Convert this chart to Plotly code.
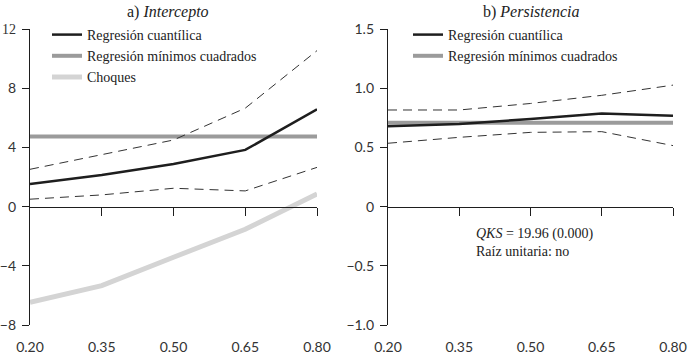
import plotly.graph_objects as go

quantiles = [0.20, 0.35, 0.50, 0.65, 0.80]
tick_labels = ["0.20", "0.35", "0.50", "0.65", "0.80"]

# Panel a) Intercepto
int_qr = [1.53, 2.14, 2.88, 3.83, 6.58]
int_upper = [2.52, 3.49, 4.50, 6.65, 10.54]
int_lower = [0.50, 0.79, 1.24, 1.06, 2.65]
int_ols = [4.73, 4.73, 4.73, 4.73, 4.73]
int_shocks = [-6.46, -5.34, -3.42, -1.53, 0.86]

# Panel b) Persistencia
per_qr = [0.678, 0.698, 0.740, 0.787, 0.768]
per_upper = [0.816, 0.816, 0.871, 0.940, 1.026]
per_lower = [0.535, 0.585, 0.627, 0.633, 0.515]
per_ols = [0.709, 0.709, 0.709, 0.709, 0.709]

yticks_a = [-8, -4, 0, 4, 8, 12]
yticklabels_a = ["−8", "−4", "0", "4", "8", "<span style='font-family:Liberation Serif'>12</span>"]
yticks_b = [-1.0, -0.5, 0, 0.5, 1.0, 1.5]
yticklabels_b = ["−1.0", "−0.5", "0", "0.5", "1.0", "1.5"]

W, H = 689, 354
SERIF = "Liberation Serif"
SANS = "Lato"
BLACK = "#1e1e1e"
OLS_C = "#9b9b9b"
SHOCK_C = "#d4d4d4"
DASH = "#333333"

ydom = [(H - 325) / H, (H - 29) / H]
xdom_a = [30 / W, 317 / W]
xdom_b = [388 / W, 673 / W]
ra = [-8, 12]
rb = [-1.0, 1.5]
zero_a = ydom[0] + (0 - ra[0]) / (ra[1] - ra[0]) * (ydom[1] - ydom[0])
zero_b = ydom[0] + (0 - rb[0]) / (rb[1] - rb[0]) * (ydom[1] - ydom[0])

fig = go.Figure()

def dashed(x, y, xa, ya):
    fig.add_trace(go.Scatter(x=x, y=y, xaxis=xa, yaxis=ya, mode="lines",
                             line=dict(color=DASH, width=1, dash="9px,6px"),
                             showlegend=False, hoverinfo="skip"))

# Left panel
fig.add_trace(go.Scatter(x=quantiles, y=int_shocks, xaxis="x", yaxis="y", mode="lines",
                         name="Choques", line=dict(color=SHOCK_C, width=5),
                         legend="legend", legendgroup="a3", legendrank=3))
fig.add_trace(go.Scatter(x=quantiles, y=int_ols, xaxis="x", yaxis="y", mode="lines",
                         name="Regresión mínimos cuadrados", line=dict(color=OLS_C, width=4),
                         legend="legend", legendgroup="a2", legendrank=2))
dashed(quantiles, int_upper, "x", "y")
dashed(quantiles, int_lower, "x", "y")
fig.add_trace(go.Scatter(x=quantiles, y=int_qr, xaxis="x", yaxis="y", mode="lines",
                         name="Regresión cuantílica", line=dict(color=BLACK, width=2.5),
                         legend="legend", legendgroup="a1", legendrank=1))

# Right panel
fig.add_trace(go.Scatter(x=quantiles, y=per_ols, xaxis="x2", yaxis="y2", mode="lines",
                         name="Regresión mínimos cuadrados", line=dict(color=OLS_C, width=4),
                         legend="legend2", legendgroup="b2", legendrank=2))
dashed(quantiles, per_upper, "x2", "y2")
dashed(quantiles, per_lower, "x2", "y2")
fig.add_trace(go.Scatter(x=quantiles, y=per_qr, xaxis="x2", yaxis="y2", mode="lines",
                         name="Regresión cuantílica", line=dict(color=BLACK, width=2.5),
                         legend="legend2", legendgroup="b1", legendrank=1))

# dummy traces for the bottom label axes
fig.add_trace(go.Scatter(x=quantiles, y=[None]*5, xaxis="x3", yaxis="y", showlegend=False, hoverinfo="skip"))
fig.add_trace(go.Scatter(x=quantiles, y=[None]*5, xaxis="x4", yaxis="y2", showlegend=False, hoverinfo="skip"))

tickfont = dict(family=SANS, size=14, color="#333")

def xline(domain, pos):
    return dict(domain=domain, range=[0.2, 0.8], anchor="free", position=pos,
                showline=True, linecolor=BLACK, linewidth=1.3, ticks="outside",
                ticklen=8, tickwidth=1.3, tickcolor=BLACK,
                tickvals=quantiles[1:], showticklabels=False, automargin=False,
                showgrid=False, zeroline=False, fixedrange=True)

def xlabels(domain, over, yanchor):
    return dict(domain=domain, range=[0.2, 0.8], overlaying=over, anchor=yanchor,
                side="bottom", showline=False, ticks="outside", ticklen=9,
                tickcolor="rgba(0,0,0,0)", tickvals=quantiles, ticktext=tick_labels,
                tickfont=tickfont, showgrid=False, zeroline=False, automargin=False)

def yax(domain, rng, tv, tt, anchor):
    return dict(domain=domain, range=rng, anchor=anchor, showline=True,
                linecolor=BLACK, linewidth=1.3, ticks="outside", ticklen=7,
                tickwidth=1.3, tickcolor=BLACK, tickvals=tv, ticktext=tt,
                tickfont=tickfont, showgrid=False, zeroline=False,
                ticklabelstandoff=3, automargin=False)

leg_common = dict(font=dict(family=SERIF, size=14, color="#222"),
                  bgcolor="rgba(0,0,0,0)", xanchor="left", yanchor="top",
                  tracegroupgap=5, itemsizing="trace", traceorder="normal")

fig.update_layout(
    width=W, height=H, margin=dict(l=0, r=0, t=0, b=0),
    paper_bgcolor="white", plot_bgcolor="white",
    xaxis=xline(xdom_a, zero_a),
    xaxis2=xline(xdom_b, zero_b),
    xaxis3=xlabels(xdom_a, "x", "y"),
    xaxis4=xlabels(xdom_b, "x2", "y2"),
    yaxis=yax(ydom, ra, yticks_a, yticklabels_a, "x3"),
    yaxis2=yax(ydom, rb, yticks_b, yticklabels_b, "x4"),
    legend=dict(x=47 / W, y=1 - 19 / H, **leg_common),
    legend2=dict(x=408 / W, y=1 - 19 / H, **leg_common),
    showlegend=True,
    annotations=[
        dict(text="a) <i>Intercepto</i>", x=168 / W, y=1 - 12 / H, xref="paper", yref="paper",
             showarrow=False, font=dict(family=SERIF, size=16, color="#222"),
             xanchor="center", yanchor="middle"),
        dict(text="b) <i>Persistencia</i>", x=531 / W, y=1 - 12 / H, xref="paper", yref="paper",
             showarrow=False, font=dict(family=SERIF, size=16, color="#222"),
             xanchor="center", yanchor="middle"),
        dict(text="<i>QKS</i> = 19.96 (0.000)<br>Raíz unitaria: no", x=474 / W, y=1 - 243 / H,
             xref="paper", yref="paper", showarrow=False, align="left",
             font=dict(family=SERIF, size=14, color="#222"),
             xanchor="left", yanchor="middle"),
    ],
)

fig.write_html("out.html", config={"displayModeBar": False},
               post_script="document.body.style.margin='0';document.body.style.overflow='hidden';")
